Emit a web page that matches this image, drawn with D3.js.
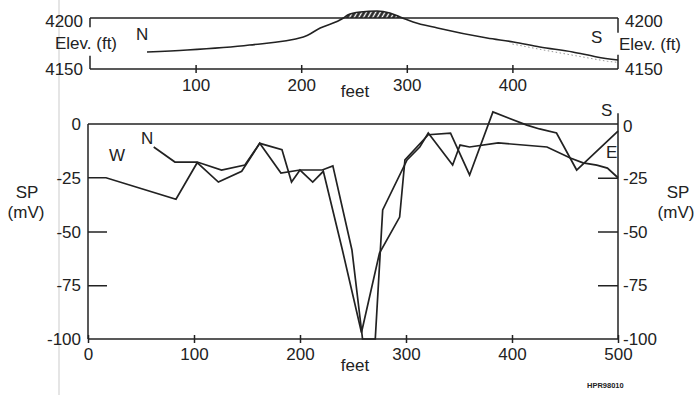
<!DOCTYPE html>
<html>
<head>
<meta charset="utf-8">
<script src="https://cdn.jsdelivr.net/npm/d3@7"></script>
<style>
  body { margin: 0; background: #fff; }
  text { font-family: "Liberation Sans", Arial, sans-serif; fill: #222; }
</style>
</head>
<body>
<div id="chart"></div>
<script>
// elevation profile (top panel)
const elevFeet = [54, 92, 151, 202, 218, 240, 244, 256, 272, 284, 296, 306, 329, 376, 401, 426, 457, 480, 500];
const elevFt = [4166.7, 4168.6, 4173.5, 4181.4, 4190.2, 4200, 4203, 4205.9, 4206.9, 4204.9, 4200, 4196.1, 4190.2, 4180.4, 4176.5, 4171.6, 4166.7, 4161.8, 4158.8];
// faint dotted second survey near the south end
const dotFeet = [400, 430, 460, 490, 500];
const dotFt = [4174.5, 4168.5, 4163, 4157.5, 4156.5];

// SP profile, W-E line
const weFeet = [0, 17, 83, 103, 123, 145, 162, 183, 192, 200, 212, 222, 240, 258, 275, 294, 299, 321, 342, 360, 382, 414, 426, 442, 461, 500];
const weSP = [-25, -25, -35, -18, -27, -22, -9, -12, -27, -21.4, -27, -22, -58.6, -97, -60, -43.3, -16.7, -5, -4.2, -23.7, 5.6, -0.5, -2.3, -4.2, -21.4, -3.3];
// SP profile, N-S line
const nsFeet = [62, 82, 103, 126, 148, 162, 182, 200, 221, 231, 249, 259, 271, 278, 301, 313, 321, 344, 351, 360, 387, 433, 455, 467, 480, 490, 500];
const nsSP = [-10.7, -17.7, -17.7, -21.4, -19.1, -9, -22.8, -21.4, -21.4, -19.5, -58.6, -100, -100, -40, -16.7, -10.7, -4.2, -19.1, -9.8, -10.7, -8.8, -10.7, -15.8, -18.1, -19.1, -20.5, -25];

const xTicks = [0, 100, 200, 300, 400, 500];
const spTicks = [0, -25, -50, -75, -100];

const width = 694, height = 395;
const svg = d3.select("#chart").append("svg")
  .attr("width", width)
  .attr("height", height);

// scan line artifact on the left
svg.append("line")
  .attr("x1", 59).attr("x2", 59).attr("y1", 0).attr("y2", height)
  .attr("stroke", "#ddd").attr("stroke-width", 1.5);

const ink = "#222";

// ---------- top panel ----------
const xTop = d3.scaleLinear().domain([0, 500]).range([90, 618]);
const yTop = d3.scaleLinear().domain([4150, 4200]).range([69, 18]);

const defs = svg.append("defs");
const pat = defs.append("pattern")
  .attr("id", "hatch")
  .attr("patternUnits", "userSpaceOnUse")
  .attr("width", 4).attr("height", 4)
  .attr("patternTransform", "rotate(30)");
pat.append("rect").attr("width", 4).attr("height", 4).attr("fill", "#fff");
pat.append("line")
  .attr("x1", 1.5).attr("x2", 1.5).attr("y1", 0).attr("y2", 4)
  .attr("stroke", "#222").attr("stroke-width", 2.6);

const elev = elevFeet.map((f, i) => [f, elevFt[i]]);
const hump = elev.filter(d => d[1] >= 4200);

svg.append("path")
  .datum(hump)
  .attr("d", d3.area().curve(d3.curveMonotoneX)
    .x(d => xTop(d[0])).y0(yTop(4200)).y1(d => yTop(d[1])))
  .attr("fill", "url(#hatch)");

// frame lines
svg.append("line")
  .attr("x1", xTop(0)).attr("x2", xTop(500))
  .attr("y1", yTop(4200)).attr("y2", yTop(4200))
  .attr("stroke", ink).attr("stroke-width", 1.5);

const topAxis = d3.axisBottom(xTop).tickValues([100, 200, 300, 400]).tickSize(8).tickFormat(d => d);
const gTop = svg.append("g")
  .attr("transform", `translate(0,${yTop(4150)})`)
  .call(topAxis);
gTop.select(".domain").attr("d", `M${xTop(0)},0H${xTop(500)}`).attr("stroke", ink).attr("stroke-width", 1.5);
gTop.selectAll(".tick line").attr("y1", -4).attr("y2", 4).attr("stroke", ink).attr("stroke-width", 1.5);
gTop.selectAll(".tick text").attr("y", 10).attr("font-size", 17).attr("fill", ink)
  .style("font-family", '"Liberation Sans", Arial, sans-serif');

// broken side axes
const sideTop = [[xTop(0), 4200, 4191], [xTop(0), 4163, 4150], [xTop(500), 4200, 4185.5], [xTop(500), 4164, 4150]];
svg.selectAll(".sideTop").data(sideTop).enter().append("line")
  .attr("x1", d => d[0]).attr("x2", d => d[0])
  .attr("y1", d => yTop(d[1])).attr("y2", d => yTop(d[2]))
  .attr("stroke", ink).attr("stroke-width", 1.5);

svg.append("path")
  .datum(dotFeet.map((f, i) => [f, dotFt[i]]))
  .attr("d", d3.line().x(d => xTop(d[0])).y(d => yTop(d[1])))
  .attr("fill", "none").attr("stroke", "#999").attr("stroke-width", 1)
  .attr("stroke-dasharray", "1.5,2.5");

svg.append("path")
  .datum(elev)
  .attr("d", d3.line().curve(d3.curveMonotoneX).x(d => xTop(d[0])).y(d => yTop(d[1])))
  .attr("fill", "none").attr("stroke", ink).attr("stroke-width", 1.6);

const topLabels = [
  { t: "4200", x: 83, y: 27, a: "end" },
  { t: "4150", x: 83, y: 75, a: "end" },
  { t: "Elev. (ft)", x: 55, y: 49, a: "start" },
  { t: "N", x: 136, y: 40, a: "start" },
  { t: "4200", x: 625, y: 27, a: "start" },
  { t: "4150", x: 625, y: 75, a: "start" },
  { t: "Elev. (ft)", x: 619, y: 50, a: "start" },
  { t: "S", x: 591, y: 43, a: "start" },
  { t: "feet", x: 355, y: 97, a: "middle" }
];
svg.selectAll(".tl").data(topLabels).enter().append("text")
  .attr("x", d => d.x).attr("y", d => d.y)
  .attr("text-anchor", d => d.a)
  .attr("font-size", 17)
  .text(d => d.t);

// ---------- bottom panel ----------
const x = d3.scaleLinear().domain([0, 500]).range([88, 618]);
const y = d3.scaleLinear().domain([-100, 0]).range([339, 124]);

// zero line
svg.append("line")
  .attr("x1", x(0)).attr("x2", x(500)).attr("y1", y(0)).attr("y2", y(0))
  .attr("stroke", ink).attr("stroke-width", 1.5);

const botAxis = d3.axisBottom(x).tickValues(xTicks).tickSize(8).tickFormat(d => d);
const gBot = svg.append("g")
  .attr("transform", `translate(0,${y(-100)})`)
  .call(botAxis);
gBot.select(".domain").attr("d", `M${x(0)},0H${x(500)}`).attr("stroke", ink).attr("stroke-width", 1.5);
gBot.selectAll(".tick line").attr("y1", -4).attr("y2", 4).attr("stroke", ink).attr("stroke-width", 1.5);
gBot.selectAll(".tick text").attr("y", 9).attr("font-size", 17).attr("fill", ink)
  .style("font-family", '"Liberation Sans", Arial, sans-serif');

// left and right axes with inward ticks
const gLeft = svg.append("g").attr("transform", `translate(${x(0)},0)`)
  .call(d3.axisRight(y).tickValues([-50, -75]).tickSize(19).tickFormat(""));
gLeft.select(".domain").attr("d", `M0,${y(0)}V${y(-100)}`).attr("stroke", ink).attr("stroke-width", 1.5);
gLeft.selectAll(".tick line").attr("stroke", ink).attr("stroke-width", 1.5);

const gRight = svg.append("g").attr("transform", `translate(${x(500)},0)`)
  .call(d3.axisLeft(y).tickValues([-25, -50, -75]).tickSize(20).tickFormat(""));
gRight.select(".domain").attr("d", `M0,${y(5)}V${y(-100)}`).attr("stroke", ink).attr("stroke-width", 1.5);
gRight.selectAll(".tick line").attr("stroke", ink).attr("stroke-width", 1.5);

svg.selectAll(".ly").data(spTicks).enter().append("text")
  .attr("x", 81).attr("y", d => y(d) + 6)
  .attr("text-anchor", "end").attr("font-size", 17)
  .text(d => d === 0 ? "0" : "-" + Math.abs(d));
svg.selectAll(".ry").data(spTicks).enter().append("text")
  .attr("x", 623).attr("y", d => y(d) + 6 + (d === 0 ? 2 : 0))
  .attr("text-anchor", "start").attr("font-size", 17)
  .text(d => d === 0 ? "0" : "-" + Math.abs(d));

const line = d3.line().x(d => x(d[0])).y(d => y(d[1]));
[[weFeet, weSP], [nsFeet, nsSP]].forEach(([f, v]) => {
  svg.append("path")
    .datum(f.map((ft, i) => [ft, v[i]]))
    .attr("d", line)
    .attr("fill", "none")
    .attr("stroke", ink)
    .attr("stroke-width", 1.7)
    .attr("stroke-linejoin", "miter");
});

const botLabels = [
  { t: "SP", x: 27, y: 198, a: "middle" },
  { t: "(mV)", x: 26, y: 218, a: "middle" },
  { t: "SP", x: 678, y: 198, a: "middle" },
  { t: "(mV)", x: 676, y: 218, a: "middle" },
  { t: "W", x: 109, y: 161, a: "start" },
  { t: "N", x: 141, y: 144, a: "start" },
  { t: "S", x: 601, y: 116, a: "start" },
  { t: "E", x: 606, y: 158, a: "start" },
  { t: "feet", x: 355, y: 371, a: "middle" }
];
svg.selectAll(".bl").data(botLabels).enter().append("text")
  .attr("x", d => d.x).attr("y", d => d.y)
  .attr("text-anchor", d => d.a)
  .attr("font-size", 17)
  .text(d => d.t);

svg.append("text")
  .attr("x", 587).attr("y", 388)
  .attr("font-size", 7.5).attr("font-weight", "bold")
  .text("HPR98010");
</script>
</body>
</html>
